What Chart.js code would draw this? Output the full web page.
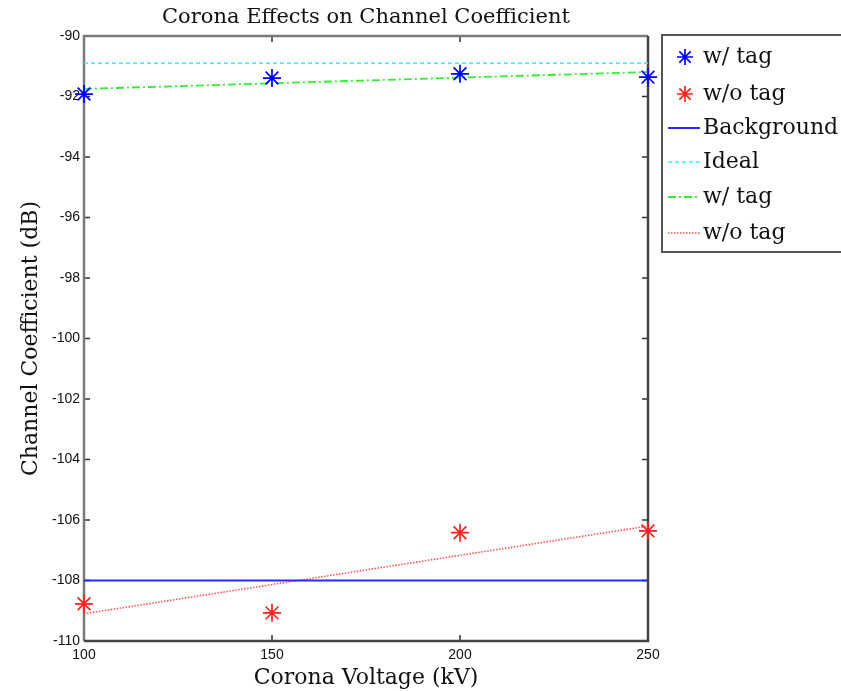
<!DOCTYPE html>
<html><head><meta charset="utf-8">
<script src="https://cdn.jsdelivr.net/npm/chart.js@4"></script>
<style>html,body{margin:0;padding:0;background:#fff}</style>
</head><body>
<canvas id="c" width="841" height="691"></canvas>
<script>
// ---- data ----
const titleText = 'Corona Effects on Channel Coefficient';
const xTitle = 'Corona Voltage (kV)';
const yTitle = 'Channel Coefficient (dB)';
const voltages = [100, 150, 200, 250];
const withTag = [-91.92, -91.39, -91.25, -91.36];
const withoutTag = [-108.77, -109.07, -106.42, -106.36];
const lineX = [100, 250];
const backgroundLevel = [-108.0, -108.0];
const idealLevel = [-90.9, -90.9];
const fitWithTag = [-91.75, -91.19];
const fitWithoutTag = [-109.1, -106.2];
const xTicks = [100, 150, 200, 250];
const yTicks = [-110, -108, -106, -104, -102, -100, -98, -96, -94, -92, -90];
const legendLabels = ['w/ tag', 'w/o tag', 'Background', 'Ideal', 'w/ tag', 'w/o tag'];

const pts = (xs, ys) => xs.map((x, i) => ({x, y: ys[i]}));
const serif = "'DejaVu Serif', serif";

const datasets = [
  {label: legendLabels[0], data: pts(voltages, withTag), showLine: false, clip: false, pointStyle: 'star', pointRadius: 9, borderColor: '#0000ff', backgroundColor: '#0000ff', pointBorderWidth: 1.7},
  {label: legendLabels[1], data: pts(voltages, withoutTag), showLine: false, clip: false, pointStyle: 'star', pointRadius: 9, borderColor: '#ff2020', backgroundColor: '#ff2020', pointBorderWidth: 1.7},
  {label: legendLabels[2], data: pts(lineX, backgroundLevel), showLine: true, pointRadius: 0, borderColor: '#2a2aff', borderWidth: 2},
  {label: legendLabels[3], data: pts(lineX, idealLevel), showLine: true, pointRadius: 0, borderColor: '#33eeff', borderWidth: 1.5, borderDash: [4, 3]},
  {label: legendLabels[4], data: pts(lineX, fitWithTag), showLine: true, pointRadius: 0, borderColor: '#33ee33', borderWidth: 1.8, borderDash: [8, 3, 2, 3]},
  {label: legendLabels[5], data: pts(lineX, fitWithoutTag), showLine: true, pointRadius: 0, borderColor: '#ff5555', borderWidth: 1.6, borderDash: [1.5, 1.5]}
];

const decor = {
  id: 'decor',
  beforeDatasetsDraw(chart) {
    const ctx = chart.ctx, a = chart.chartArea;
    const xs = chart.scales.x, ys = chart.scales.y;
    ctx.save();
    // title
    ctx.fillStyle = '#111';
    ctx.font = '21px ' + serif;
    ctx.textAlign = 'center';
    ctx.textBaseline = 'middle';
    ctx.fillText(titleText, (a.left + a.right) / 2, 18);
    // inner ticks
    ctx.strokeStyle = '#333';
    ctx.lineWidth = 1.5;
    const tl = 6;
    ctx.beginPath();
    ys.ticks.forEach(t => {
      const p = ys.getPixelForValue(t.value);
      ctx.moveTo(a.left, p); ctx.lineTo(a.left + tl, p);
      ctx.moveTo(a.right, p); ctx.lineTo(a.right - tl, p);
    });
    xs.ticks.forEach(t => {
      const p = xs.getPixelForValue(t.value);
      ctx.moveTo(p, a.bottom); ctx.lineTo(p, a.bottom - tl);
      ctx.moveTo(p, a.top); ctx.lineTo(p, a.top + tl);
    });
    ctx.stroke();
    // frame
    ctx.lineWidth = 2.5;
    ctx.strokeStyle = '#7a7a7a';
    ctx.beginPath();
    ctx.moveTo(a.left, a.bottom); ctx.lineTo(a.left, a.top); ctx.lineTo(a.right, a.top);
    ctx.stroke();
    ctx.strokeStyle = '#444';
    ctx.beginPath();
    ctx.moveTo(a.right, a.top); ctx.lineTo(a.right, a.bottom); ctx.lineTo(a.left, a.bottom);
    ctx.stroke();
    ctx.restore();
  },
  afterDraw(chart) {
    const ctx = chart.ctx;
    ctx.save();
    // legend
    const lx = 662, ly = 35, lw = 190, lh = 217;
    ctx.fillStyle = '#fff';
    ctx.fillRect(lx, ly, lw, lh);
    ctx.lineWidth = 2;
    ctx.strokeStyle = '#555';
    ctx.strokeRect(lx, ly, lw, lh);
    const rowY = [57, 94, 128, 162, 197, 233];
    chart.data.datasets.forEach((ds, i) => {
      const y = rowY[i];
      if (ds.pointStyle === 'star') {
        ctx.save();
        ctx.strokeStyle = ds.borderColor;
        ctx.fillStyle = ds.backgroundColor;
        ctx.lineWidth = ds.pointBorderWidth;
        Chart.helpers.drawPoint(ctx, {pointStyle: 'star', radius: 8, rotation: 0, borderWidth: ds.pointBorderWidth}, 685, y);
        ctx.restore();
      } else {
        ctx.save();
        ctx.strokeStyle = ds.borderColor;
        ctx.lineWidth = ds.borderWidth;
        ctx.setLineDash(ds.borderDash || []);
        ctx.beginPath();
        ctx.moveTo(668, y); ctx.lineTo(700, y);
        ctx.stroke();
        ctx.restore();
      }
      ctx.fillStyle = '#111';
      ctx.font = '22px ' + serif;
      ctx.textAlign = 'left';
      ctx.textBaseline = 'middle';
      ctx.fillText(ds.label, 703, y);
    });
    ctx.restore();
  }
};

new Chart(document.getElementById('c'), {
  type: 'scatter',
  data: {datasets},
  options: {
    responsive: false,
    animation: false,
    devicePixelRatio: 1,
    layout: {padding: {left: 0, right: 193, top: 36, bottom: 0}},
    plugins: {legend: {display: false}, title: {display: false}, tooltip: {enabled: false}},
    scales: {
      x: {
        type: 'linear', min: 100, max: 250,
        afterBuildTicks: s => { s.ticks = xTicks.map(v => ({value: v})); },
        afterFit: s => { s.height = 50; },
        grid: {display: false, drawTicks: false},
        border: {display: false},
        ticks: {color: '#111', padding: 6, font: {family: "'Liberation Sans', Arial, sans-serif", size: 14}},
        title: {display: true, text: xTitle, color: '#111', font: {family: serif, size: 22}, padding: {top: 0, bottom: 0}}
      },
      y: {
        type: 'linear', min: -110, max: -90,
        afterBuildTicks: s => { s.ticks = yTicks.map(v => ({value: v})); },
        afterFit: s => { s.width = 84; },
        grid: {display: false, drawTicks: false},
        border: {display: false},
        ticks: {color: '#111', padding: 4, font: {family: "'Liberation Sans', Arial, sans-serif", size: 14}},
        title: {display: true, text: yTitle, color: '#111', font: {family: serif, size: 22}, padding: {top: 18, bottom: 0}}
      }
    }
  },
  plugins: [decor]
});
</script>
</body></html>
